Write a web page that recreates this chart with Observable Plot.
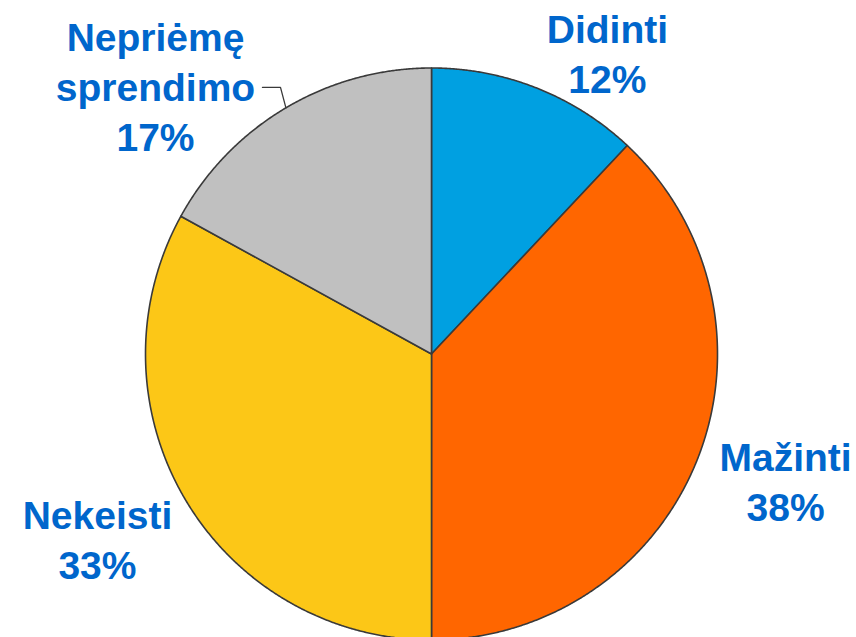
<!DOCTYPE html>
<html>
<head>
<meta charset="utf-8">
<script src="https://cdn.jsdelivr.net/npm/d3@7"></script>
<script src="https://cdn.jsdelivr.net/npm/@observablehq/plot@0.6"></script>
<style>
  html, body { margin: 0; padding: 0; background: #ffffff; }
  #chart { width: 856px; height: 637px; overflow: hidden; }
</style>
</head>
<body>
<div id="chart"></div>
<script>
// Data (clockwise from 12 o'clock)
const categories = ["Didinti", "Mažinti", "Nekeisti", "Nepriėmę sprendimo"];
const labelLines = [["Didinti"], ["Mažinti"], ["Nekeisti"], ["Nepriėmę", "sprendimo"]];
const shares = [12, 38, 33, 17];
const sliceColors = ["#00A0E1", "#FF6600", "#FCC717", "#C0C0C0"];

// Label anchor positions, in pie-radius units (layout only)
const labelX = [0.615, 1.238, -1.168, -0.965];
const labelY = [1.056, -0.441, -0.645, 0.939];
// Leader line for the grey slice: elbow and end, in pie-radius units
const leaderElbow = [-0.528, 0.932];
const leaderEnd = [-0.591, 0.932];

const W = 856, H = 637;
const CX = 431, CY = 353.5, R = 286;

// Build slice polygons from the shares
const total = d3.sum(shares);
const polys = [];
let acc = 0;
const mids = [];
shares.forEach((v, i) => {
  const a0 = acc / total * 2 * Math.PI;
  acc += v;
  const a1 = acc / total * 2 * Math.PI;
  mids.push((a0 + a1) / 2);
  polys.push({cat: categories[i], x: 0, y: 0});
  const n = Math.max(2, Math.ceil((a1 - a0) / (Math.PI / 720)));
  for (let k = 0; k <= n; k++) {
    const a = a0 + (a1 - a0) * k / n;
    polys.push({cat: categories[i], x: Math.sin(a), y: Math.cos(a)});
  }
  polys.push({cat: categories[i], x: 0, y: 0});
});

const labels = categories.map((c, i) => ({
  text: labelLines[i].concat([shares[i] + "%"]).join("\n"),
  x: labelX[i], y: labelY[i]
}));

const mGrey = mids[3];
const leader = [
  {x: Math.sin(mGrey), y: Math.cos(mGrey)},
  {x: leaderElbow[0], y: leaderElbow[1]},
  {x: leaderEnd[0], y: leaderEnd[1]}
];

const chart = Plot.plot({
  width: W,
  height: H,
  margin: 0,
  style: {background: "#ffffff", overflow: "hidden"},
  x: {domain: [-CX / R, (W - CX) / R], axis: null},
  y: {domain: [-(H - CY) / R, CY / R], axis: null},
  color: {domain: categories, range: sliceColors},
  marks: [
    Plot.line(polys, {x: "x", y: "y", z: "cat", fill: "cat", stroke: "#3a3a3a", strokeWidth: 1.6, strokeLinejoin: "round"}),
    Plot.line(leader, {x: "x", y: "y", stroke: "#3a3a3a", strokeWidth: 1.3}),
    Plot.text(labels, {
      x: "x", y: "y", text: "text",
      fill: "#0066CC",
      fontSize: 39,
      fontWeight: "bold",
      fontFamily: "'Liberation Sans', Arial, sans-serif",
      lineHeight: 1.282,
      lineAnchor: "middle",
      textAnchor: "middle"
    })
  ]
});
document.getElementById("chart").appendChild(chart);
</script>
</body>
</html>
